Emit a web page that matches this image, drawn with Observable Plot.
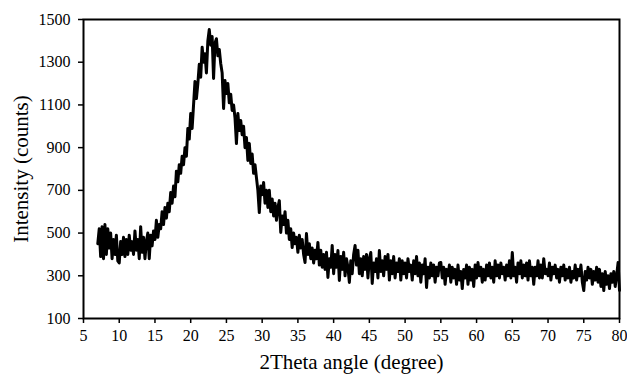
<!DOCTYPE html>
<html>
<head>
<meta charset="utf-8">
<script src="https://cdn.jsdelivr.net/npm/d3@7"></script>
<script src="https://cdn.jsdelivr.net/npm/@observablehq/plot@0.6"></script>
<style>
  html, body { margin: 0; padding: 0; background: #fff; }
  #chart svg, #chart svg text, #chart svg g { font-family: "Liberation Serif", "Times New Roman", serif !important; }
  #chart svg [aria-label="x-axis label"] text,
  #chart svg [aria-label="y-axis label"] text { font-size: 21px; }
</style>
</head>
<body>
<div id="chart"></div>
<script>
// 2θ sampling grid (degrees)
const angleStart = 7.0;
const angleStep = 0.2;

// Intensity (counts), one row per degree (7.0, 7.2, 7.4, 7.6, 7.8 ...)
const intensity = [
  450, 520, 390, 530, 380,   // 7
  540, 400, 520, 430, 500,   // 8
  380, 470, 400, 490, 370,   // 9
  360, 460, 400, 480, 390,   // 10
  470, 400, 490, 420, 460,   // 11
  400, 510, 420, 470, 380,   // 12
  530, 410, 480, 380, 460,   // 13
  500, 380, 490, 440, 510,   // 14
  470, 560, 480, 540, 520,   // 15
  600, 540, 620, 570, 640,   // 16
  600, 690, 640, 720, 670,   // 17
  790, 740, 820, 780, 860,   // 18
  820, 900, 860, 990, 940,   // 19
  1060, 990, 1100, 1210, 1130, // 20
  1200, 1290, 1230, 1370, 1300, // 21
  1340, 1250, 1400, 1453, 1380, // 22
  1420, 1224, 1390, 1410, 1330, // 23
  1360, 1294, 1250, 1083, 1214, // 24
  1153, 1200, 1110, 1150, 1074, // 25
  1100, 1040, 919, 1060, 980,  // 26
  1027, 960, 1000, 900, 947,   // 27
  840, 920, 826, 870, 780,   // 28
  820, 760, 700, 596, 720,   // 29
  680, 737, 640, 700, 620,   // 30
  700, 600, 660, 580, 640,   // 31
  560, 620, 652, 503, 580,   // 32
  540, 600, 500, 560, 470,   // 33
  520, 432, 500, 450, 480,   // 34
  410, 490, 430, 470, 400,   // 35
  362, 498, 400, 450, 380,   // 36
  430, 360, 420, 380, 456,   // 37
  350, 420, 340, 400, 330,   // 38
  410, 292, 380, 340, 442,   // 39
  310, 400, 340, 418, 278,   // 40
  390, 330, 410, 300, 380,   // 41
  340, 269, 370, 310, 400,   // 42
  442, 350, 420, 310, 380,   // 43
  300, 390, 330, 400, 290,   // 44
  380, 409, 264, 360, 320,   // 45
  380, 290, 418, 320, 370,   // 46
  300, 390, 330, 400, 280,   // 47
  370, 310, 390, 290, 360,   // 48
  320, 380, 280, 370, 310,   // 49
  360, 290, 380, 320, 350,   // 50
  280, 370, 310, 390, 300,   // 51
  360, 270, 350, 310, 380,   // 52
  245, 340, 290, 360, 300,   // 53
  350, 270, 340, 300, 360,   // 54
  362, 290, 340, 260, 330,   // 55
  300, 350, 270, 340, 290,   // 56
  330, 260, 350, 280, 320,   // 57
  240, 330, 290, 350, 260,   // 58
  340, 280, 330, 250, 350,   // 59
  290, 362, 300, 340, 270,   // 60
  330, 280, 350, 300, 360,   // 61
  290, 340, 270, 370, 300,   // 62
  350, 290, 360, 310, 340,   // 63
  280, 350, 300, 370, 290,   // 64
  409, 300, 340, 270, 360,   // 65
  310, 370, 290, 350, 300,   // 66
  360, 280, 370, 300, 340,   // 67
  260, 340, 300, 370, 290,   // 68
  350, 290, 380, 310, 330,   // 69
  300, 360, 280, 340, 310,   // 70
  350, 290, 330, 270, 340,   // 71
  300, 350, 280, 330, 290,   // 72
  340, 270, 320, 290, 350,   // 73
  280, 330, 300, 350, 270,   // 74
  231, 320, 280, 340, 290,   // 75
  330, 260, 320, 280, 340,   // 76
  270, 330, 250, 310, 231,   // 77
  320, 260, 300, 240, 310,   // 78
  270, 320, 250, 300, 362,   // 79
  231                        // 80
];

// Axis ticks and labels
const xTicks = [5, 10, 15, 20, 25, 30, 35, 40, 45, 50, 55, 60, 65, 70, 75, 80];
const yTicks = [100, 300, 500, 700, 900, 1100, 1300, 1500];
const xLabel = "2Theta angle (degree)";
const yLabel = "Intensity (counts)";

const data = intensity.map((v, i) => ({
  angle: +(angleStart + i * angleStep).toFixed(2),
  counts: v
}));

const serif = "Liberation Serif";

const chart = Plot.plot({
  width: 627,
  height: 374,
  marginLeft: 83,
  marginRight: 8,
  marginTop: 19,
  marginBottom: 56,
  style: { fontFamily: serif, fontSize: "16px", color: "black", background: "white" },
  x: { domain: [5, 80] },
  y: { domain: [100, 1500] },
  marks: [
    Plot.axisX({ ticks: xTicks, tickSize: 5, tickPadding: 6, tickFormat: d => String(d), fontFamily: serif,
      fontVariant: "normal", label: xLabel, labelAnchor: "center", labelArrow: "none", labelOffset: 50, strokeWidth: 1.5 }),
    Plot.axisY({ ticks: yTicks, tickSize: 5, tickPadding: 8, tickFormat: d => String(d), fontFamily: serif,
      fontVariant: "normal", label: yLabel, labelAnchor: "center", labelArrow: "none", labelOffset: 70, strokeWidth: 1.5 }),
    Plot.line(data, { x: "angle", y: "counts", stroke: "black", strokeWidth: 3, strokeLinejoin: "round" }),
    Plot.frame({ stroke: "black", strokeWidth: 2 })
  ]
});

document.getElementById("chart").appendChild(chart);
</script>
</body>
</html>
